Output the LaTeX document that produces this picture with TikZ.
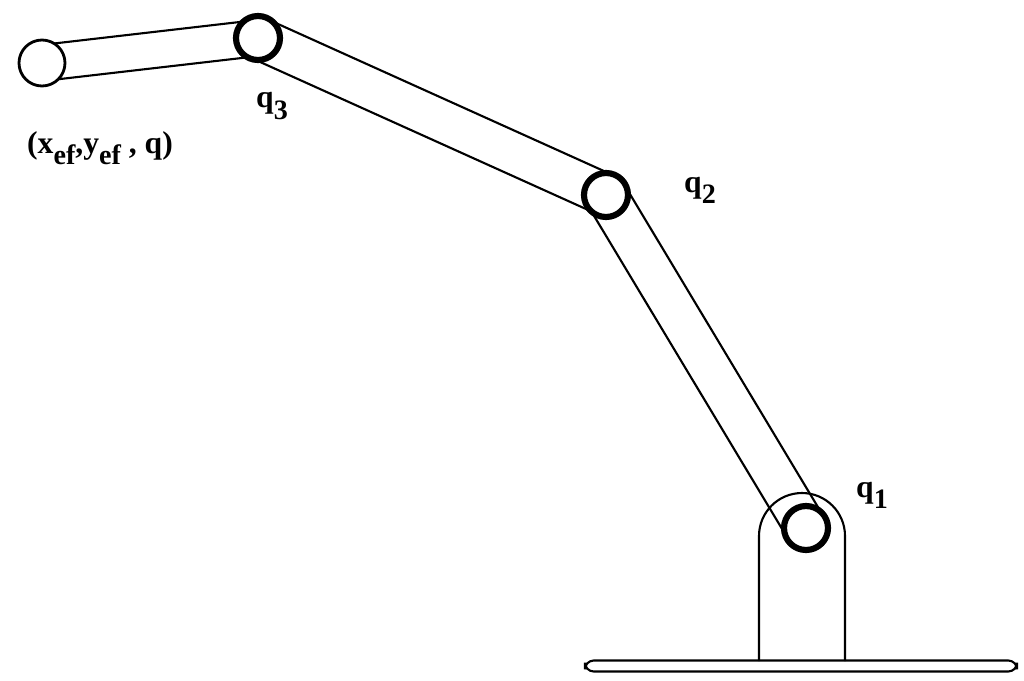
\documentclass[tikz,border=0pt]{standalone}
\usepackage{fontspec}
\setmainfont{Liberation Serif}
\usetikzlibrary{calc}
\newcommand{\lowsub}[1]{\raisebox{-0.35em}{\fontsize{16}{18}\selectfont #1}}
\begin{document}
\begin{tikzpicture}[x=0.02cm,y=-0.02cm,
  link/.style={line width=1.2pt},
  joint/.style={circle,draw,fill=white,line width=3.5pt,minimum size=44*0.02cm,inner sep=0pt},
  tip/.style={circle,draw,fill=white,line width=1.6pt,minimum size=46*0.02cm,inner sep=0pt},
  lbl/.style={font=\bfseries\fontsize{18}{20}\selectfont}]
\useasboundingbox (0,0) rectangle (1024,680);
% base
\node[draw,line width=1.2pt,rounded corners=5pt,minimum width=432*0.02cm,minimum height=11*0.02cm,inner sep=0pt] (plat) at (801,666) {};
\coordinate (bl) at (759,661); \coordinate (br) at (845,661);
\draw[link] (bl) -- (759,536) arc[start angle=180,end angle=0,x radius=43*0.02cm,y radius=43*0.02cm] -- (br);
% joints
\coordinate (ef) at (42,63);
\coordinate (c3) at (258,38);
\coordinate (c2) at (606,195);
\coordinate (c1) at (806,528);
\foreach \a/\b/\w in {ef/c3/18,c3/c2/21,c2/c1/21}{
  \draw[link] ($(\a)!\w*0.02cm!90:(\b)$) -- ($(\b)!\w*0.02cm!-90:(\a)$);
  \draw[link] ($(\a)!\w*0.02cm!-90:(\b)$) -- ($(\b)!\w*0.02cm!90:(\a)$);
}
\node[tip] (tipn) at (ef) {};
\node[joint] (q3) at (c3) {};
\node[joint] (q2) at (c2) {};
\node[joint] (q1) at (c1) {};
\node[lbl] (l1) at (872,495) {q\lowsub{1}};
\node[lbl] (l2) at (700,190) {q\lowsub{2}};
\node[lbl] (l3) at (272,106) {q\lowsub{3}};
\node[lbl] (lef) at (100,148) {(x\lowsub{ef},y\lowsub{ef} , q)};
\end{tikzpicture}
\end{document}
